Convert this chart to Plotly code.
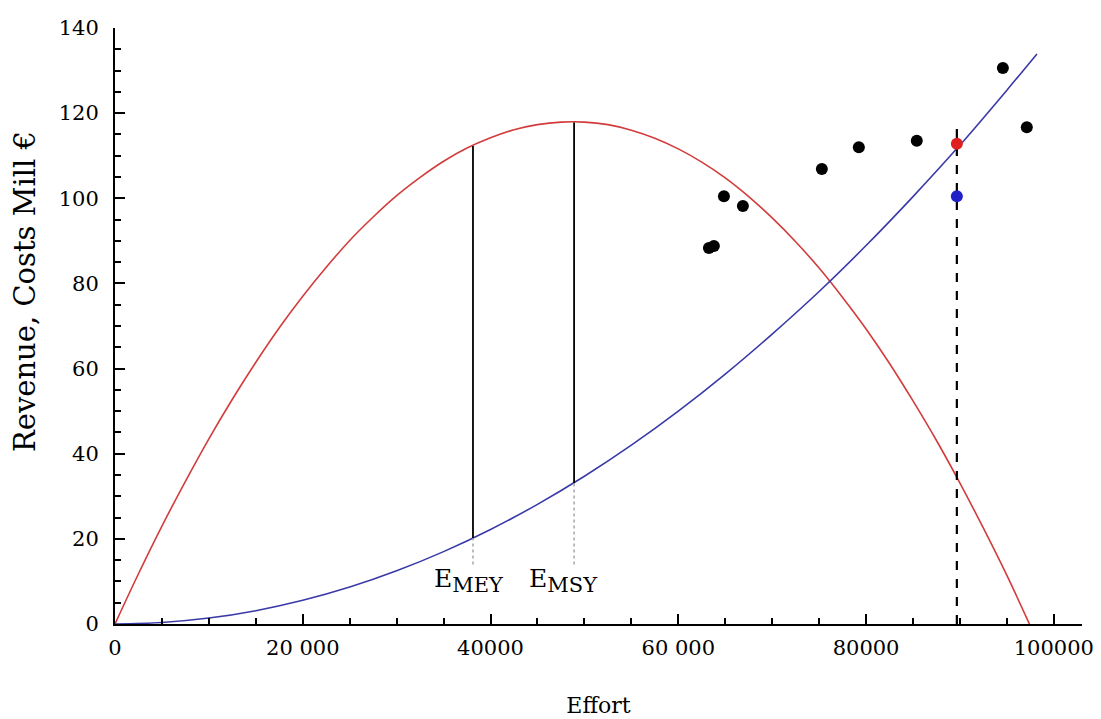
import plotly.graph_objects as go

# Revenue curve (red)
rev_effort = [0, 2500, 5000, 7500, 10000, 12500, 15000, 17500, 20000, 22500, 25000, 27500,
              30000, 32500, 35000, 37500, 40000, 42500, 45000, 47500, 50000, 52500, 55000,
              57500, 60000, 62500, 65000, 67500, 70000, 72500, 75000, 77500, 80000, 82500,
              85000, 87500, 90000, 92500, 95000, 97400]
rev_value = [0, 11.8, 23.0, 33.5, 43.5, 52.8, 61.5, 69.6, 77.0, 83.8, 90.1, 95.6,
             100.6, 104.9, 108.7, 111.8, 114.2, 116.1, 117.3, 117.9, 117.9, 117.3, 116.0,
             114.1, 111.6, 108.5, 104.8, 100.4, 95.4, 89.8, 83.6, 76.7, 69.3, 61.2,
             52.4, 43.1, 33.1, 22.5, 11.4, 0]

# Cost curve (blue)
cost_effort = [0, 5000, 10000, 15000, 20000, 25000, 30000, 35000, 40000, 45000, 50000,
               55000, 60000, 65000, 70000, 75000, 80000, 85000, 90000, 95000, 98200]
cost_value = [0, 0.35, 1.39, 3.13, 5.56, 8.68, 12.5, 17.0, 22.2, 28.1, 34.7,
              42.0, 50.0, 58.7, 68.1, 78.1, 88.9, 100.4, 112.5, 125.4, 133.9]

# Observed data (black dots)
obs_effort = [63260, 63790, 64860, 66880, 75290, 79230, 85400, 94570, 97120]
obs_value = [88.3, 88.8, 100.5, 98.2, 106.9, 112.0, 113.5, 130.6, 116.7]

# Current point
current_effort = 89670
current_revenue = 112.8
current_cost = 100.5
current_line_top = 117.5

# Reference efforts
e_mey = 38130
e_mey_low, e_mey_cost, e_mey_rev = 14.0, 20.2, 112.3
e_msy = 48900
e_msy_low, e_msy_cost, e_msy_rev = 14.0, 33.1, 117.8
label_y = 10.2

x_tickvals = [0, 20000, 40000, 60000, 80000, 100000]
x_ticktext = ["0", "20 000", "40000", "60 000", "80000", "100000"]
y_tickvals = [0, 20, 40, 60, 80, 100, 120, 140]

FONT = "DejaVu Serif"

fig = go.Figure()
fig.add_trace(go.Scatter(x=rev_effort, y=rev_value, mode="lines", line_shape="spline",
                         line=dict(color="#d23c3c", width=1.6), showlegend=False))
fig.add_trace(go.Scatter(x=cost_effort, y=cost_value, mode="lines", line_shape="spline",
                         line=dict(color="#3a3aa8", width=1.6), showlegend=False))

# vertical solid lines
fig.add_trace(go.Scatter(x=[e_mey, e_mey], y=[e_mey_cost, e_mey_rev], mode="lines",
                         line=dict(color="black", width=1.8), showlegend=False))
fig.add_trace(go.Scatter(x=[e_msy, e_msy], y=[e_msy_cost, e_msy_rev], mode="lines",
                         line=dict(color="black", width=1.8), showlegend=False))
# dotted lines
fig.add_trace(go.Scatter(x=[e_mey, e_mey], y=[e_mey_low, e_mey_cost], mode="lines",
                         line=dict(color="#999999", width=1.3, dash="dot"), showlegend=False))
fig.add_trace(go.Scatter(x=[e_msy, e_msy], y=[e_msy_low, e_msy_cost], mode="lines",
                         line=dict(color="#999999", width=1.3, dash="dot"), showlegend=False))
# dashed current effort
fig.add_trace(go.Scatter(x=[current_effort, current_effort], y=[0, current_line_top], mode="lines",
                         line=dict(color="black", width=2.2, dash="dash"), showlegend=False))

fig.add_trace(go.Scatter(x=obs_effort, y=obs_value, mode="markers",
                         marker=dict(color="black", size=12), showlegend=False))
fig.add_trace(go.Scatter(x=[current_effort], y=[current_revenue], mode="markers",
                         marker=dict(color="#e02020", size=12), showlegend=False))
fig.add_trace(go.Scatter(x=[current_effort], y=[current_cost], mode="markers",
                         marker=dict(color="#2020c8", size=12), showlegend=False))

fig.add_annotation(x=e_mey, y=label_y, xshift=-4,
                   text="E<sub><span style='font-size:21px'>MEY</span></sub>", showarrow=False,
                   xanchor="center", yanchor="middle", font=dict(family=FONT, size=25, color="black"))
fig.add_annotation(x=e_msy, y=label_y, xshift=-11,
                   text="E<sub><span style='font-size:21px'>MSY</span></sub>", showarrow=False,
                   xanchor="center", yanchor="middle", font=dict(family=FONT, size=25, color="black"))

# y-axis title as annotation (placed left of tick labels, slightly above centre)
fig.add_annotation(xref="paper", yref="paper", x=-0.093, y=0.557, text="Revenue, Costs Mill €",
                   textangle=-90, showarrow=False, xanchor="center", yanchor="middle",
                   font=dict(family=FONT, size=29, color="black"))

fig.update_layout(
    width=1093, height=711,
    margin=dict(l=107, r=19, t=20, b=95),
    paper_bgcolor="white", plot_bgcolor="white",
    font=dict(family=FONT, color="black", size=21),
    xaxis=dict(range=[0, 103000], tickvals=x_tickvals, ticktext=x_ticktext, automargin=False,
               showgrid=False, zeroline=False, showline=True, linecolor="black", linewidth=2,
               ticks="inside", ticklen=10, tickwidth=2, tickcolor="black",
               tickfont=dict(family=FONT, size=21), ticklabelstandoff=4,
               minor=dict(dtick=5000, ticks="inside", ticklen=6, tickwidth=1.5, tickcolor="black"),
               title=dict(text="Effort", font=dict(family=FONT, size=22), standoff=38)),
    yaxis=dict(range=[0, 140], tickvals=y_tickvals, automargin=False,
               showgrid=False, zeroline=False, showline=True, linecolor="black", linewidth=2,
               ticks="inside", ticklen=10, tickwidth=2, tickcolor="black",
               tickfont=dict(family=FONT, size=21), ticklabelstandoff=10,
               minor=dict(dtick=5, ticks="inside", ticklen=6, tickwidth=1.5, tickcolor="black")),
)

fig.write_html("out.html")
